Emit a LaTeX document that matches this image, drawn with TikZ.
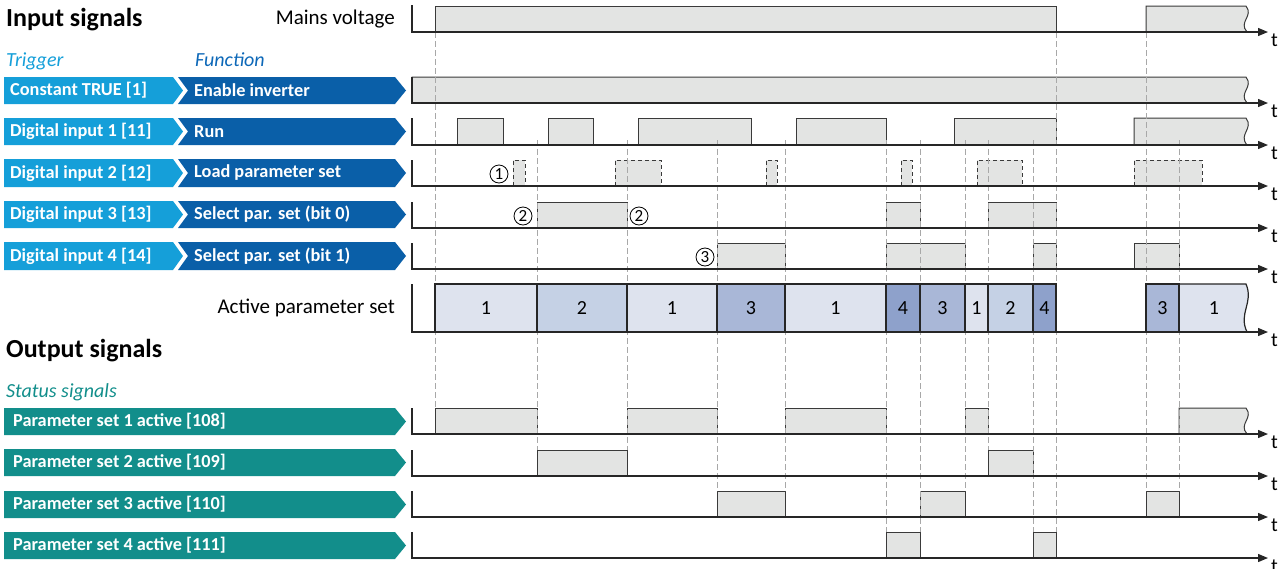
\documentclass[tikz,border=0pt]{standalone}
\usepackage{fontspec}
\setmainfont{Carlito}
\usetikzlibrary{arrows.meta}
\definecolor{trig}{HTML}{159FD9}
\definecolor{func}{HTML}{0A5FA8}
\definecolor{functxt}{HTML}{0D68B8}
\definecolor{teal}{HTML}{128E8B}
\definecolor{pfill}{HTML}{E3E4E3}
\definecolor{pedge}{HTML}{3A3A3A}
\definecolor{guide}{HTML}{A8A8A8}
\definecolor{cA}{HTML}{DEE3EE}
\definecolor{cB}{HTML}{C5D1E5}
\definecolor{cC}{HTML}{A9B7D7}
\definecolor{cD}{HTML}{8EA1CB}
\tikzset{
  axisline/.style={line width=1.3pt,draw=black!85,-{Triangle[length=10pt,width=8pt]}},
  pulseedge/.style={line width=1pt,draw=pedge},
  dpulse/.style={line width=1pt,draw=pedge,dash pattern=on 4pt off 3pt},
  guideline/.style={line width=1pt,draw=guide,dash pattern=on 6pt off 3pt},
  bannertxt/.style={text=white,font=\fontsize{18.3}{21}\selectfont\bfseries,anchor=west,inner sep=0pt},
  lbl/.style={font=\fontsize{21}{25}\selectfont,inner sep=0pt},
  tlbl/.style={font=\fontsize{20}{24}\selectfont,inner sep=0pt},
  cellnum/.style={font=\fontsize{20}{24}\selectfont,inner sep=0pt},
  circnum/.style={circle,draw=black,line width=0.8pt,minimum size=18pt,inner sep=0pt,font=\fontsize{17}{18}\selectfont},
}
\newcommand\pls[4]{% x1 x2 top axis
  \fill[pfill] (#1,#4) rectangle (#2,#3);
  \draw[pulseedge] (#1,#4) -- (#1,#3) -- (#2,#3) -- (#2,#4);}
\newcommand\dpls[4]{%
  \fill[pfill] (#1,#4) rectangle (#2,#3);
  \draw[dpulse] (#1,#4) -- (#1,#3) -- (#2,#3) -- (#2,#4);}
\newcommand\wpls[3]{% x1 top axis, wavy end at 1246
  \fill[pfill] (#1,#3) -- (#1,#2) -- (1246,#2) .. controls (1254,{#2+0.4*(#3-#2)}) and (1238,{#2+0.6*(#3-#2)}) .. (1247,#3) -- cycle;
  \draw[pulseedge] (#1,#3) -- (#1,#2) -- (1246,#2) .. controls (1254,{#2+0.4*(#3-#2)}) and (1238,{#2+0.6*(#3-#2)}) .. (1247,#3);}
\newcommand\sigaxis[3]{% name top axis
  \draw[axisline] (412,#2) -- (412,#3) -- (1268,#3);
  \node[tlbl,anchor=west] (t#1) at (1271,#3+8) {t};}
\newcommand\inbanner[5]{% name top bottom trigtext functext
  \fill[trig] (4,#2) -- (173,#2) -- (183,{(#2+#3)/2}) -- (173,#3) -- (4,#3) -- cycle;
  \fill[func] (178,#2) -- (395,#2) -- (406,{(#2+#3)/2}) -- (395,#3) -- (178,#3) -- (188,{(#2+#3)/2}) -- cycle;
  \node[bannertxt] (tr#1) at (10,{(#2+#3)/2}) {#4};
  \node[bannertxt] (fn#1) at (194,{(#2+#3)/2}) {#5};}
\newcommand\outbanner[4]{% name top bottom text
  \fill[teal] (4,#2) -- (395,#2) -- (406,{(#2+#3)/2}) -- (395,#3) -- (4,#3) -- cycle;
  \node[bannertxt] (ob#1) at (13,{(#2+#3)/2}) {#4};}
\begin{document}
\begin{tikzpicture}[x=1pt,y=-1pt]
\useasboundingbox (0,0) rectangle (1288,568);
% headings
\node[font=\fontsize{26}{30}\selectfont\bfseries,anchor=base west,inner sep=0pt] (hin) at (6,26) {Input signals};
\node[font=\fontsize{26}{30}\selectfont\bfseries,anchor=base west,inner sep=0pt] (hout) at (6,357) {Output signals};
\node[font=\fontsize{20}{24}\selectfont\itshape,text=trig,anchor=base west,inner sep=0pt] (htrig) at (6,66) {Trigger};
\node[font=\fontsize{20}{24}\selectfont\itshape,text=functxt,anchor=base west,inner sep=0pt] (hfunc) at (195,66) {Function};
\node[font=\fontsize{20}{24}\selectfont\itshape,text=teal,anchor=base west,inner sep=0pt] (hstat) at (6,397) {Status signals};
\node[lbl,anchor=east] (lmains) at (395,19) {Mains voltage};
\node[lbl,anchor=east] (lactive) at (395,308) {Active parameter set};
% banners
\inbanner{a}{77}{104}{Constant TRUE [1]}{Enable inverter}
\inbanner{b}{118}{145}{Digital input 1 [11]}{Run}
\inbanner{c}{159}{187}{Digital input 2 [12]}{Load parameter set}
\inbanner{d}{201}{228}{Digital input 3 [13]}{Select par. set (bit 0)}
\inbanner{e}{242}{270}{Digital input 4 [14]}{Select par. set (bit 1)}
\outbanner{a}{408}{435}{Parameter set 1 active [108]}
\outbanner{b}{449}{476}{Parameter set 2 active [109]}
\outbanner{c}{491}{518}{Parameter set 3 active [110]}
\outbanner{d}{532}{559}{Parameter set 4 active [111]}
% pulses
\pls{435}{1056}{6}{32}
\wpls{1146}{6}{32}
\wpls{412}{77}{103}
\pls{457}{503}{118}{145}
\pls{548}{593}{118}{145}
\pls{638}{751}{118}{145}
\pls{796}{886}{118}{145}
\pls{954}{1056}{118}{145}
\wpls{1134}{118}{145}
\dpls{513}{525}{160}{186}
\dpls{615}{661}{160}{186}
\dpls{766}{777}{160}{186}
\dpls{901}{912}{160}{186}
\dpls{977}{1022}{160}{186}
\dpls{1134}{1202}{160}{186}
\pls{537}{627}{202}{228}
\pls{886}{920}{202}{228}
\pls{988}{1056}{202}{228}
\pls{717}{785}{243}{269}
\pls{886}{965}{243}{269}
\pls{1033}{1056}{243}{269}
\pls{1134}{1179}{243}{269}
% output pulses
\pls{435}{537}{408}{434}
\pls{627}{717}{408}{434}
\pls{785}{886}{408}{434}
\pls{965}{988}{408}{434}
\wpls{1179}{408}{434}
\pls{537}{627}{450}{476}
\pls{988}{1033}{450}{476}
\pls{717}{785}{491}{517}
\pls{920}{965}{491}{517}
\pls{1146}{1179}{491}{517}
\pls{886}{920}{532}{558}
\pls{1033}{1056}{532}{558}
% active parameter set cells
\foreach \xa/\xb/\c/\n in {435/537/cA/1,537/627/cB/2,627/717/cA/1,717/785/cC/3,785/886/cA/1,886/920/cD/4,920/965/cC/3,965/988/cA/1,988/1033/cB/2,1033/1056/cD/4,1146/1179/cC/3}{
  \fill[\c] (\xa,284) rectangle (\xb,332);
  \node[cellnum] (cell\xa) at ({(\xa+\xb)/2},308) {\n};
}
\fill[cA] (1179,332) -- (1179,284) -- (1246,284) .. controls (1254,303) and (1238,313) .. (1247,332) -- cycle;
\node[cellnum] (cell1179) at (1214,308) {1};
% guide lines
\foreach \x/\ya/\yb in {435/32/408,1056/32/532,1146/32/491,537/140/450,627/140/450,717/140/491,785/140/491,886/140/532,920/140/532,965/140/491,988/140/450,1033/140/532,1179/140/491}{
  \draw[guideline] (\x,\ya) -- (\x,\yb);
}
% cell borders over guide lines
\foreach \xa/\xb in {435/537,537/627,627/717,717/785,785/886,886/920,920/965,965/988,988/1033,1033/1056,1146/1179}{
  \draw[line width=1.2pt,draw=black!85] (\xa,332) -- (\xa,284) -- (\xb,284) -- (\xb,332);
}
\draw[line width=1.2pt,draw=black!85] (1179,332) -- (1179,284) -- (1246,284) .. controls (1254,303) and (1238,313) .. (1247,332);
% axes
\sigaxis{m}{5}{32}
\sigaxis{a}{77}{103}
\sigaxis{b}{118}{145}
\sigaxis{c}{160}{186}
\sigaxis{d}{202}{228}
\sigaxis{e}{243}{269}
\sigaxis{f}{284}{332}
\sigaxis{g}{408}{434}
\sigaxis{h}{450}{476}
\sigaxis{i}{491}{517}
\sigaxis{j}{532}{558}
% circled markers
\node[circnum] (m1) at (499,174) {1};
\node[circnum] (m2a) at (523,216) {2};
\node[circnum] (m2b) at (639,216) {2};
\node[circnum] (m3) at (705,257) {3};
\end{tikzpicture}
\end{document}
